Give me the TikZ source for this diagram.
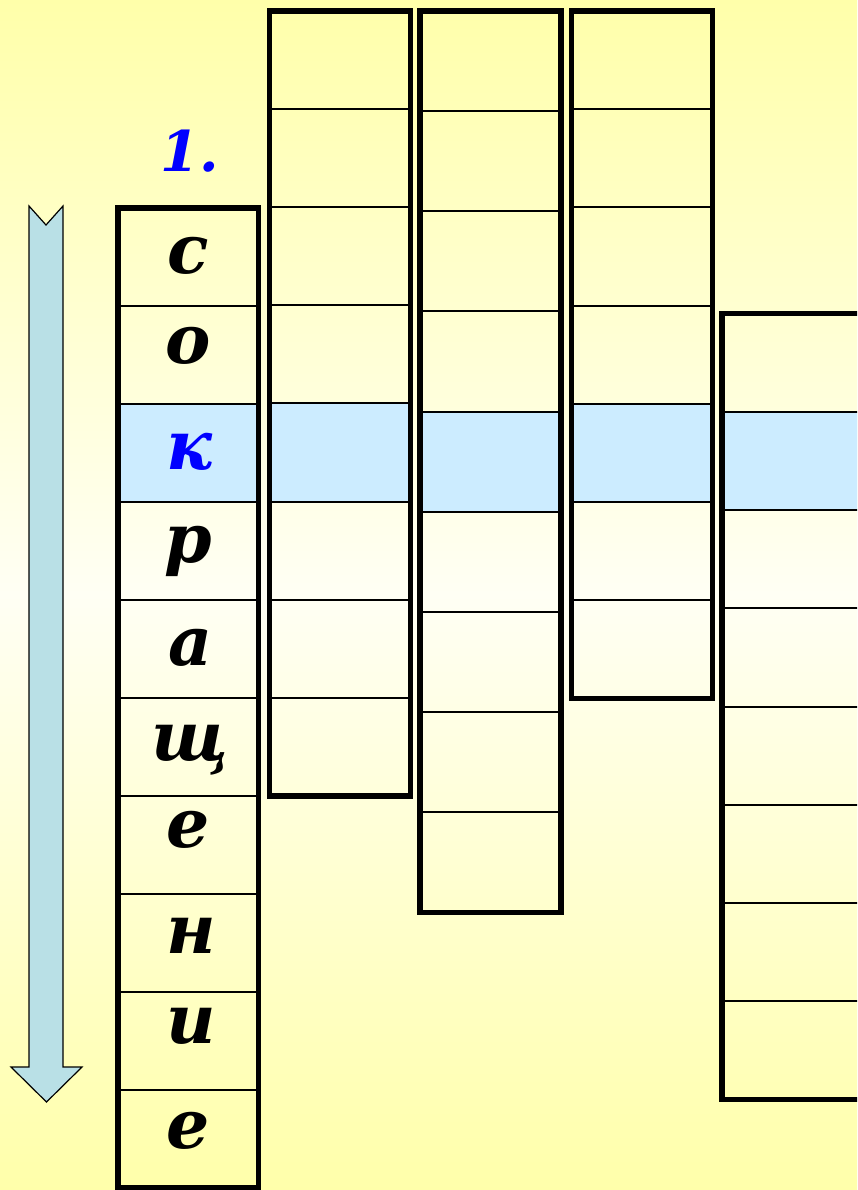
\documentclass[tikz,border=0pt]{standalone}
\usepackage{fontspec}
\setmainfont{DejaVu Serif}
\definecolor{rowblue}{RGB}{204,236,255}
\definecolor{arrowblue}{RGB}{185,224,230}
\definecolor{bgyellow}{RGB}{255,255,170}
\definecolor{bglight}{RGB}{255,255,244}
\tikzset{
  letter/.style = {font=\fontsize{68}{68}\selectfont\bfseries\itshape, anchor=base, inner sep=0pt},
  frame/.style = {line width=5.5pt},
  rule/.style = {line width=2pt}
}
\begin{document}
\begin{tikzpicture}[x=1pt, y=-1pt, draw = black]
\useasboundingbox (0,0) rectangle (857,1190);
\shade[top color = bgyellow, bottom color = bgyellow, middle color = bglight] (0,0) rectangle (857,1190);
\clip (0,0) rectangle (857,1190);
% arrow
\filldraw[fill = arrowblue, line width = 1.2pt] (29,206) -- (46,225) -- (63,206) -- (63,1067) -- (82,1067) -- (46.5,1102) -- (11,1067) -- (29,1067) -- cycle;
% highlighted row
\fill[rowblue] (118,404) rectangle (258.5,502);
\fill[rowblue] (269.5,403) rectangle (410.5,502);
\fill[rowblue] (420,412) rectangle (561,512);
\fill[rowblue] (571.5,404) rectangle (712.5,502);
\fill[rowblue] (722,412) rectangle (863,510);
% column 1
\draw[rule] (118,306) -- (258.5,306) (118,404) -- (258.5,404) (118,502) -- (258.5,502)
  (118,600) -- (258.5,600) (118,698) -- (258.5,698) (118,796) -- (258.5,796)
  (118,894) -- (258.5,894) (118,992) -- (258.5,992) (118,1090) -- (258.5,1090);
\draw[frame] (118,208) rectangle (258.5,1188);
% column 2
\draw[rule] (269.5,109) -- (410.5,109) (269.5,207) -- (410.5,207) (269.5,305) -- (410.5,305)
  (269.5,403) -- (410.5,403) (269.5,502) -- (410.5,502) (269.5,600) -- (410.5,600)
  (269.5,698) -- (410.5,698);
\draw[frame] (269.5,11) rectangle (410.5,796);
% column 3
\draw[rule] (420,111) -- (561,111) (420,211) -- (561,211) (420,311) -- (561,311)
  (420,412) -- (561,412) (420,512) -- (561,512) (420,612) -- (561,612)
  (420,712) -- (561,712) (420,812) -- (561,812);
\draw[frame] (420,11) rectangle (561,912.5);
% column 4
\draw[rule] (571.5,109) -- (712.5,109) (571.5,207) -- (712.5,207) (571.5,306) -- (712.5,306)
  (571.5,404) -- (712.5,404) (571.5,502) -- (712.5,502) (571.5,600) -- (712.5,600);
\draw[frame] (571.5,11) rectangle (712.5,698.5);
% column 5
\draw[rule] (722,412) -- (863,412) (722,510) -- (863,510) (722,608) -- (863,608)
  (722,706.5) -- (863,706.5) (722,805) -- (863,805) (722,903) -- (863,903)
  (722,1001) -- (863,1001);
\draw[frame] (722,313.5) rectangle (863,1099.5);
% word
\node[font = \fontsize{56}{56}\selectfont\bfseries\itshape, text = blue, anchor = base, inner sep = 0pt] (num) at (190,172) {1.};
\node[letter] (s) at (188,273) {с};
\node[letter] (o) at (188,363) {о};
\node[letter, text = blue] (k) at (190,469) {к};
\node[letter] (r) at (188,562) {р};
\node[letter] (a) at (191,665) {а};
\node[letter] (shch) at (190,760) {щ};
\node[letter] (e1) at (188,847) {е};
\node[letter] (n) at (191,953) {н};
\node[letter] (i) at (191,1043) {и};
\node[letter] (e2) at (188,1148) {е};
\end{tikzpicture}
\end{document}
